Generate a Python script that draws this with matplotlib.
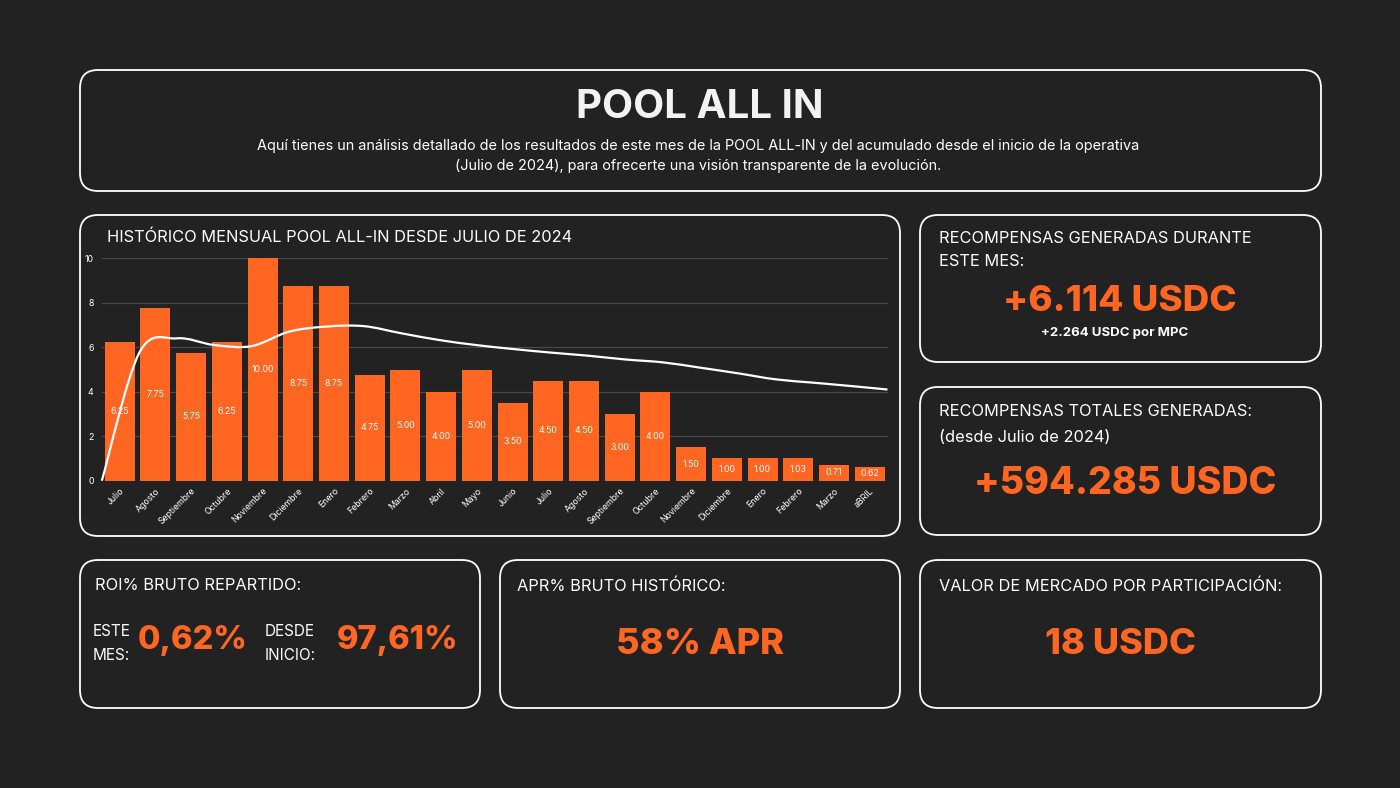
import numpy as np
import matplotlib.pyplot as plt
from matplotlib.patches import FancyBboxPatch, PathPatch
from matplotlib.path import Path

plt.rcParams['font.family'] = ['Inter', 'DejaVu Sans']

# data
meses = ['Julio', 'Agosto', 'Septiembre', 'Octubre', 'Noviembre', 'Diciembre', 'Enero',
         'Febrero', 'Marzo', 'Abril', 'Mayo', 'Junio', 'Julio', 'Agosto', 'Septiembre',
         'Octubre', 'Noviembre', 'Diciembre', 'Enero', 'Febrero', 'Marzo', 'aBRIL']
roi_mes = [6.25, 7.75, 5.75, 6.25, 10.00, 8.75, 8.75, 4.75, 5.00, 4.00, 5.00, 3.50,
           4.50, 4.50, 3.00, 4.00, 1.50, 1.00, 1.00, 1.03, 0.71, 0.62]
tendencia = [0.0, 5.75, 6.4, 6.1, 6.05, 6.7, 6.93, 6.95, 6.63, 6.33, 6.1, 5.92,
             5.76, 5.62, 5.45, 5.32, 5.08, 4.83, 4.56, 4.41, 4.26, 4.1]

titulo = 'POOL ALL IN'
subtitulo = ['Aquí tienes un análisis detallado de los resultados de este mes de la POOL ALL-IN y del acumulado desde el inicio de la operativa',
             '(Julio de 2024), para ofrecerte una visión transparente de la evolución.']
titulo_grafico = 'HISTÓRICO MENSUAL POOL ALL-IN DESDE JULIO DE 2024'
recompensas_mes = '+6.114 USDC'
recompensas_mpc = '+2.264 USDC por MPC'
recompensas_total = '+594.285 USDC'
roi_este_mes = '0,62%'
roi_desde_inicio = '97,61%'
apr = '58% APR'
valor_mercado = '18 USDC'

BG = '#222222'
ORANGE = '#ff6622'
W, H = 1400, 788

fig = plt.figure(figsize=(14, 7.88), dpi=100, facecolor=BG)
bg = fig.add_axes([0, 0, 1, 1])
bg.set_xlim(0, W)
bg.set_ylim(H, 0)
bg.axis('off')
bg.set_facecolor(BG)


def panel(x0, y0, x1, y1):
    p = FancyBboxPatch((x0, y0), x1 - x0, y1 - y0,
                       boxstyle='round,pad=0,rounding_size=18',
                       fc=BG, ec='white', lw=1.3)
    bg.add_patch(p)


def label(x, y, s, size=12):
    bg.text(x, y, s, color='white', fontsize=size, ha='left', va='center')


panel(80, 70, 1321, 191)
panel(80, 215, 900, 536)
panel(920, 215, 1321, 362)
panel(920, 387, 1321, 535)
panel(80, 560, 480, 708)
panel(500, 560, 900, 708)
panel(920, 560, 1321, 708)

# header
bg.text(700, 107, titulo, color='#f2f2f2', fontsize=29, fontweight='bold',
        ha='center', va='center')
bg.text(698, 146, subtitulo[0], color='white', fontsize=10.4, ha='center', va='center')
bg.text(698, 166, subtitulo[1], color='white', fontsize=10.4, ha='center', va='center')

# chart title
label(107, 237, titulo_grafico, 11.8)

# right panels
label(939, 238, 'RECOMPENSAS GENERADAS DURANTE', 11.8)
label(939, 262, 'ESTE MES:', 11.8)
bg.text(1120, 301, recompensas_mes, color=ORANGE, fontsize=26.5, fontweight='heavy',
        ha='center', va='center')
bg.text(1115, 333, recompensas_mpc, color='white', fontsize=9.5, fontweight='bold',
        ha='center', va='center')

label(939, 411, 'RECOMPENSAS TOTALES GENERADAS:', 11.8)
label(939, 437, '(desde Julio de 2024)', 11.8)
bg.text(1125, 484, recompensas_total, color=ORANGE, fontsize=27, fontweight='heavy',
        ha='center', va='center')

# bottom panels
label(95, 586, 'ROI% BRUTO REPARTIDO:', 11.8)
label(93, 632, 'ESTE', 11)
label(93, 655, 'MES:', 11)
bg.text(193, 641, roi_este_mes, color=ORANGE, fontsize=23.5, fontweight='heavy',
        ha='center', va='center')
label(265, 632, 'DESDE', 11)
label(265, 655, 'INICIO:', 11)
bg.text(397, 641, roi_desde_inicio, color=ORANGE, fontsize=23.5, fontweight='heavy',
        ha='center', va='center')

label(517, 586, 'APR% BRUTO HISTÓRICO:', 11.8)
bg.text(700, 644, apr, color=ORANGE, fontsize=26, fontweight='heavy',
        ha='center', va='center')

label(939, 586, 'VALOR DE MERCADO POR PARTICIPACIÓN:', 11.8)
bg.text(1120, 644, valor_mercado, color=ORANGE, fontsize=26, fontweight='heavy',
        ha='center', va='center')

# bar chart
ax_l, ax_r, ax_b, ax_t = 101.85, 887.5, 480.7, 258.3
ax = fig.add_axes([ax_l / W, 1 - ax_b / H, (ax_r - ax_l) / W, (ax_b - ax_t) / H])
ax.set_facecolor('none')
x = np.arange(len(meses))
bars = ax.bar(x, roi_mes, width=0.84, color=ORANGE, zorder=2)
ax.bar_label(bars, labels=['%.2f' % v for v in roi_mes], label_type='center',
             color='white', fontsize=6.3)
ax.set_xlim(-0.5, len(meses) - 0.5)
ax.set_ylim(0, 10)
ax.set_yticks([0, 2, 4, 6, 8, 10])
ax.grid(axis='y', color='#4a4a4a', lw=0.8, zorder=0)
ax.set_xticks(x)
ax.set_xticklabels(meses, rotation=45, ha='right', rotation_mode='anchor',
                   fontsize=6.3, color='white')
ax.tick_params(axis='both', length=0, colors='white', labelsize=6.3)
ax.tick_params(axis='x', pad=4)
ax.tick_params(axis='y', pad=6)
for s in ax.spines.values():
    s.set_visible(False)

# smooth trend line (Catmull-Rom through the read points)
n = len(tendencia)
lx = np.array([k * n / (n - 1) - 0.5 for k in range(n)])
ly = np.array(tendencia)
verts = [(lx[0], ly[0])]
codes = [Path.MOVETO]
for i in range(n - 1):
    p0 = np.array([lx[max(i - 1, 0)], ly[max(i - 1, 0)]])
    p1 = np.array([lx[i], ly[i]])
    p2 = np.array([lx[i + 1], ly[i + 1]])
    p3 = np.array([lx[min(i + 2, n - 1)], ly[min(i + 2, n - 1)]])
    c1 = p1 + (p2 - p0) / 6
    c2 = p2 - (p3 - p1) / 6
    verts += [tuple(c1), tuple(c2), tuple(p2)]
    codes += [Path.CURVE4] * 3
ax.add_patch(PathPatch(Path(verts, codes), fc='none', ec='white', lw=1.6,
                       zorder=3, clip_on=False))

fig.savefig('out.png', dpi=100, facecolor=BG)
